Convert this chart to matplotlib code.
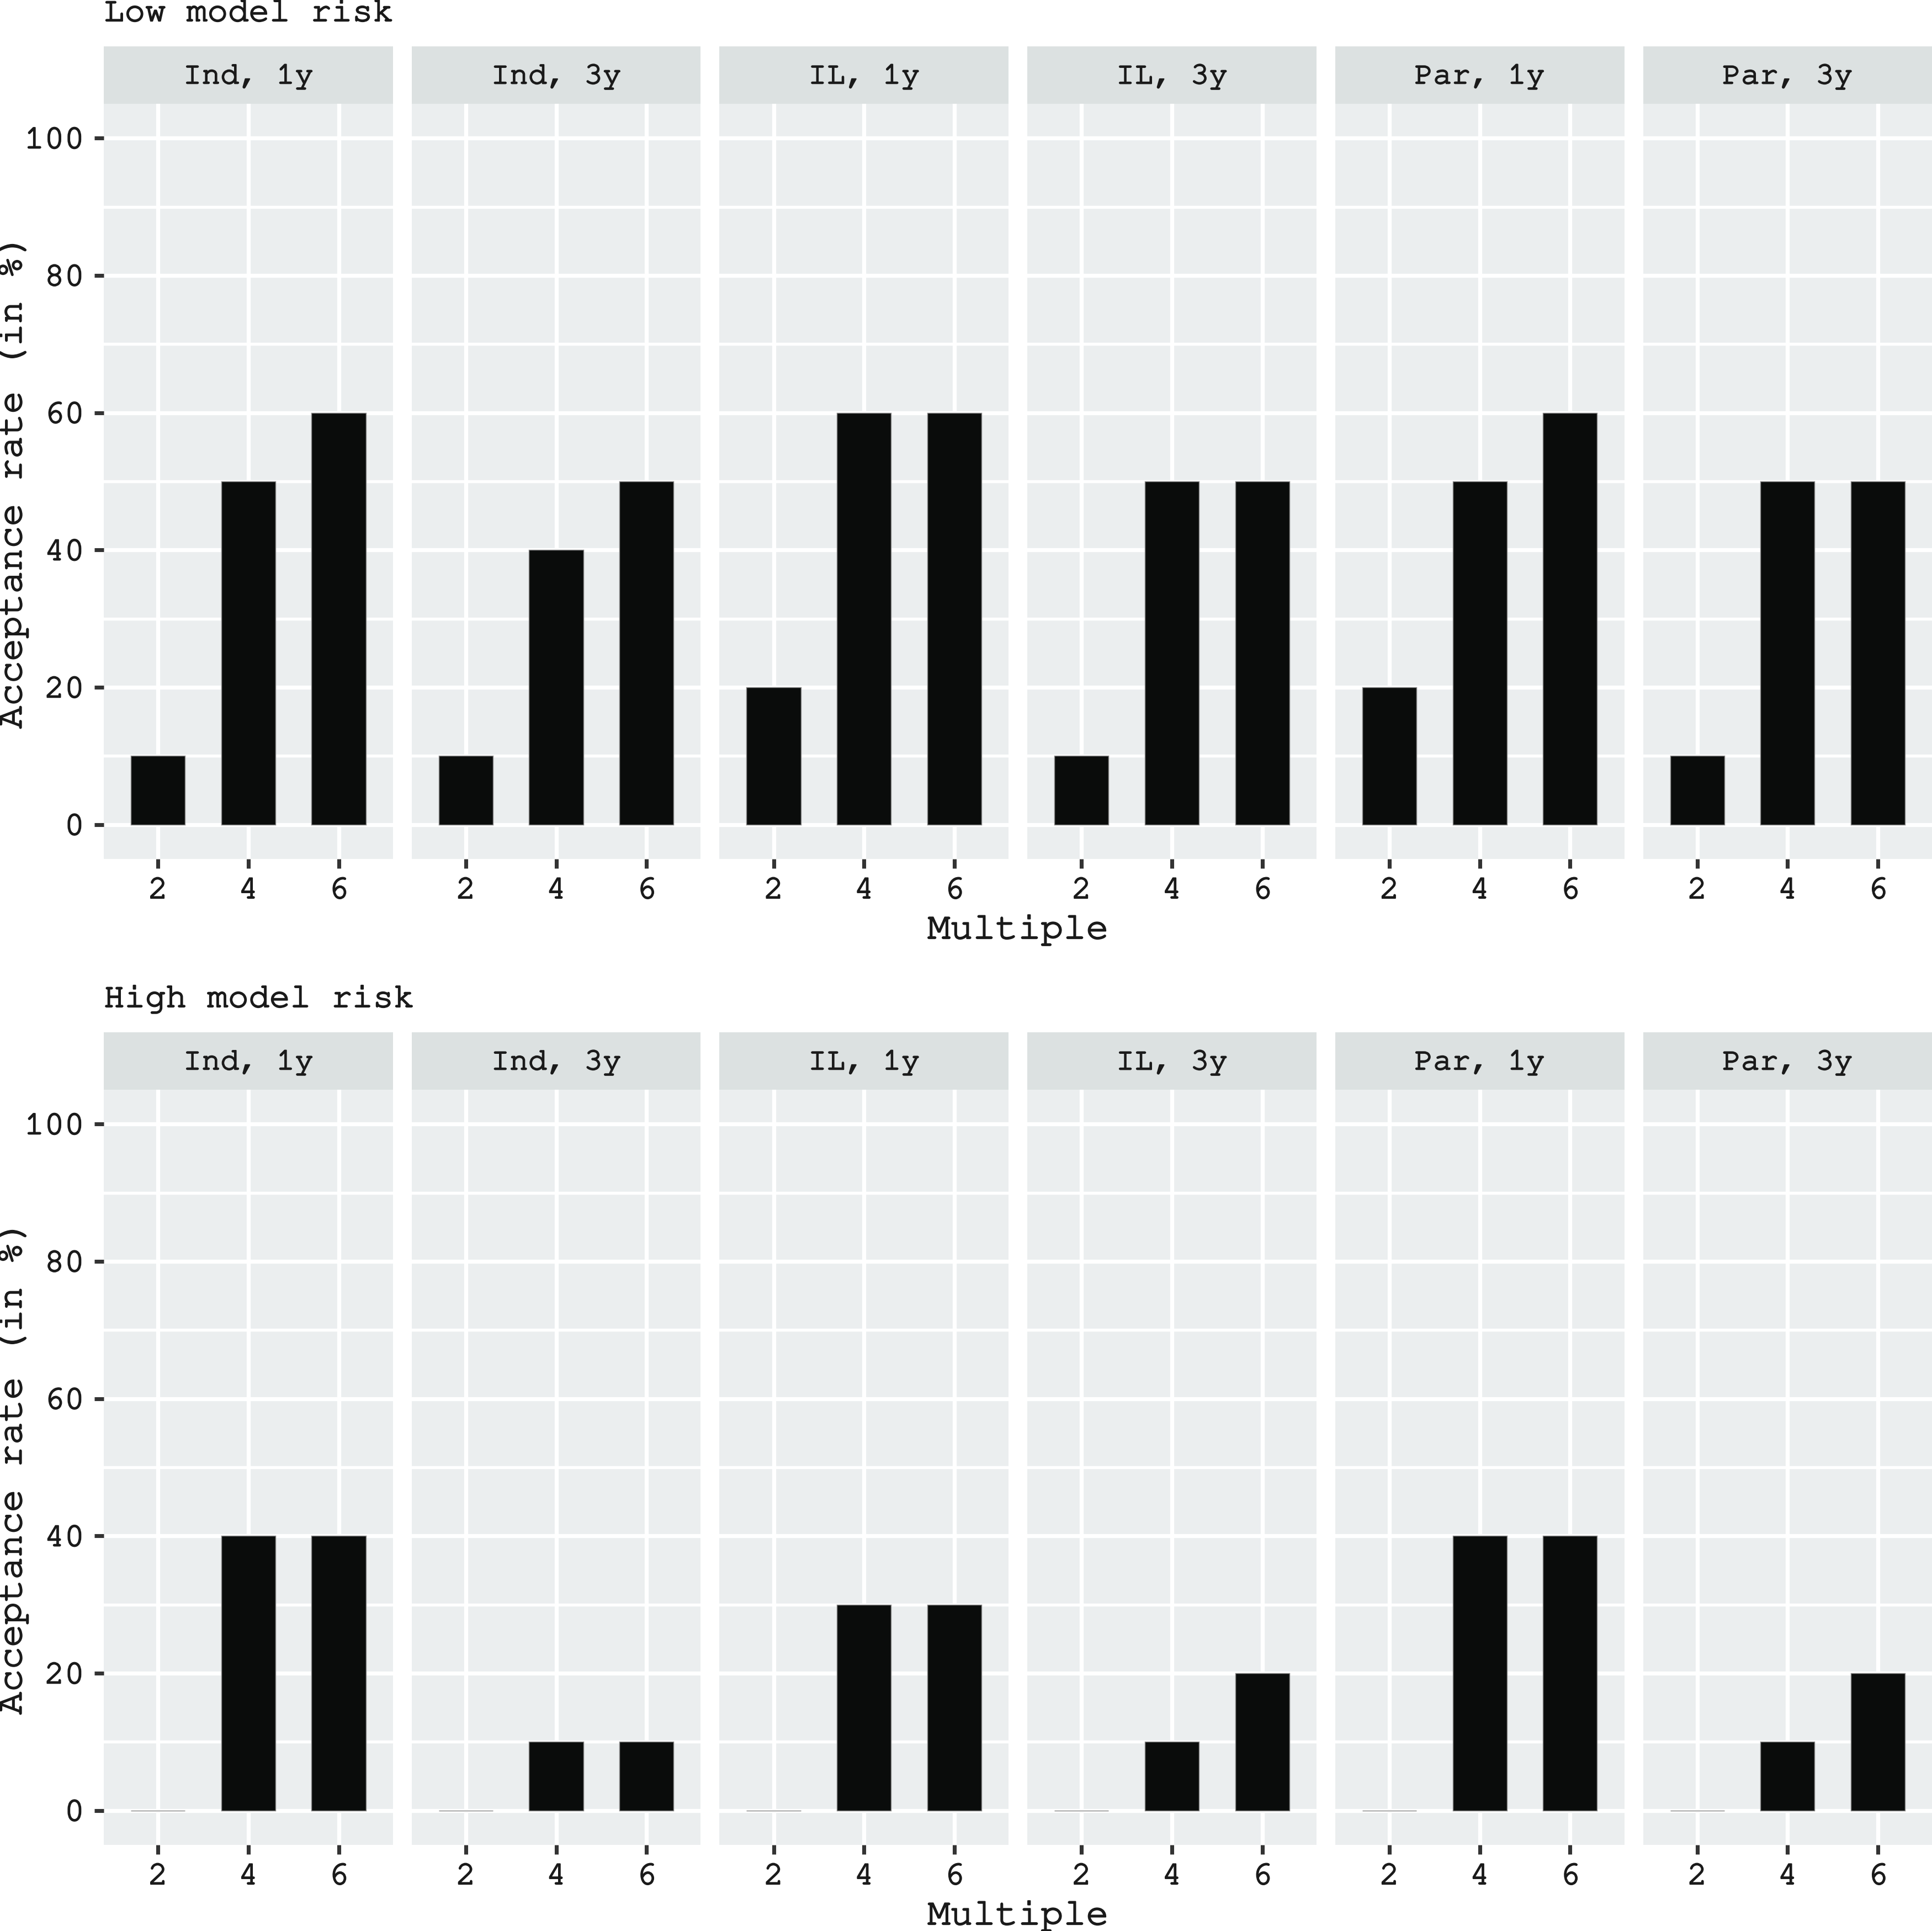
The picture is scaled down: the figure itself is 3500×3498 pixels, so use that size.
import matplotlib
matplotlib.use("Agg")
import matplotlib.pyplot as plt
import matplotlib.patheffects as pe
from matplotlib import font_manager
from matplotlib.patches import Rectangle

# a Courier-like face if one is around, else Liberation Mono
wanted = ["Nimbus Mono PS", "Nimbus Mono L", "FreeMono", "Courier New", "Courier",
          "Liberation Mono", "DejaVu Sans Mono"]
installed = {f.name for f in font_manager.fontManager.ttflist}
plt.rcParams["font.family"] = [name for name in wanted if name in installed]

# data
facets = ["Ind, 1y", "Ind, 3y", "IL, 1y", "IL, 3y", "Par, 1y", "Par, 3y"]
multiples = [2, 4, 6]
low_risk = [
    [10, 50, 60],
    [10, 40, 50],
    [20, 60, 60],
    [10, 50, 50],
    [20, 50, 60],
    [10, 50, 50],
]
high_risk = [
    [0, 40, 40],
    [0, 10, 10],
    [0, 30, 30],
    [0, 10, 20],
    [0, 40, 40],
    [0, 10, 20],
]
y_ticks = [0, 20, 40, 60, 80, 100]
y_minor = [10, 30, 50, 70, 90]

W, H = 3500, 3498
DPI = 300

PANEL_BG = "#EBEEEF"
STRIP_BG = "#DCE1E1"
BAR_COLOR = "#0A0C0B"
TEXT_COLOR = "#1A1A1A"
TICK_COLOR = "#333333"

PANEL_LEFT = 188
PANEL_W = 523.7
PANEL_GAP = 34

# the reference type is a little heavier than the installed mono face
HEAVY = [pe.withStroke(linewidth=0.55, foreground=TEXT_COLOR)]


def fig_rect(x0, y_top, w, h):
    return [x0 / W, 1 - (y_top + h) / H, w / W, h / H]


def draw_row(fig, values, title, strip_top, panel_top, panel_bottom):
    strip_h = panel_top - strip_top
    panel_h = panel_bottom - panel_top

    fig.text(PANEL_LEFT / W, 1 - (strip_top - 46) / H, title, ha="left",
             va="baseline", fontsize=15, color=TEXT_COLOR, path_effects=HEAVY)

    for i, name in enumerate(facets):
        x0 = PANEL_LEFT + i * (PANEL_W + PANEL_GAP)

        sax = fig.add_axes(fig_rect(x0, strip_top, PANEL_W, strip_h))
        sax.set_axis_off()
        sax.add_patch(Rectangle((0, 0), 1, 1, transform=sax.transAxes,
                                facecolor=STRIP_BG, edgecolor="none"))
        sax.text(0.5, 0.47, name, transform=sax.transAxes, ha="center",
                 va="center", fontsize=13.5, color=TEXT_COLOR, path_effects=HEAVY)

        ax = fig.add_axes(fig_rect(x0, panel_top, PANEL_W, panel_h))
        ax.set_facecolor(PANEL_BG)
        for side in ax.spines.values():
            side.set_visible(False)

        ax.bar(multiples, values[i], width=1.2, color=BAR_COLOR,
               edgecolor="#8A8A8A", linewidth=0.35, zorder=3)

        ax.set_xlim(0.8, 7.2)
        ax.set_ylim(-5, 105)
        ax.set_xticks(multiples)
        ax.set_yticks(y_ticks)
        ax.set_yticks(y_minor, minor=True)
        ax.grid(True, which="major", color="white", linewidth=1.75, zorder=0)
        ax.grid(True, which="minor", axis="y", color="white", linewidth=1.3, zorder=0)
        ax.set_axisbelow(True)

        ax.tick_params(axis="both", which="major", length=4.1, width=1.7,
                       color=TICK_COLOR, labelsize=14.5, labelcolor=TEXT_COLOR, pad=4.3)
        ax.tick_params(axis="y", which="minor", length=0)
        if i > 0:
            ax.tick_params(axis="y", which="major", length=0, labelleft=False)
        for label in ax.get_xticklabels() + ax.get_yticklabels():
            label.set_path_effects(HEAVY)

    fig.text(24 / W, 1 - (panel_top + panel_h / 2) / H, "Acceptance rate (in %)",
             rotation=90, ha="center", va="center", fontsize=16.3,
             color=TEXT_COLOR, path_effects=HEAVY)
    area_right = PANEL_LEFT + 6 * PANEL_W + 5 * PANEL_GAP
    fig.text((PANEL_LEFT + area_right) / 2 / W, 1 - (panel_bottom + 144) / H,
             "Multiple", ha="center", va="baseline", fontsize=16.4,
             color=TEXT_COLOR, path_effects=HEAVY)


fig = plt.figure(figsize=(W / DPI, H / DPI), dpi=DPI)
fig.patch.set_facecolor("white")

draw_row(fig, low_risk, "Low model risk", 84, 188, 1556)
draw_row(fig, high_risk, "High model risk", 1870, 1974, 3342)

fig.savefig("out.png", dpi=DPI)
plt.close(fig)
